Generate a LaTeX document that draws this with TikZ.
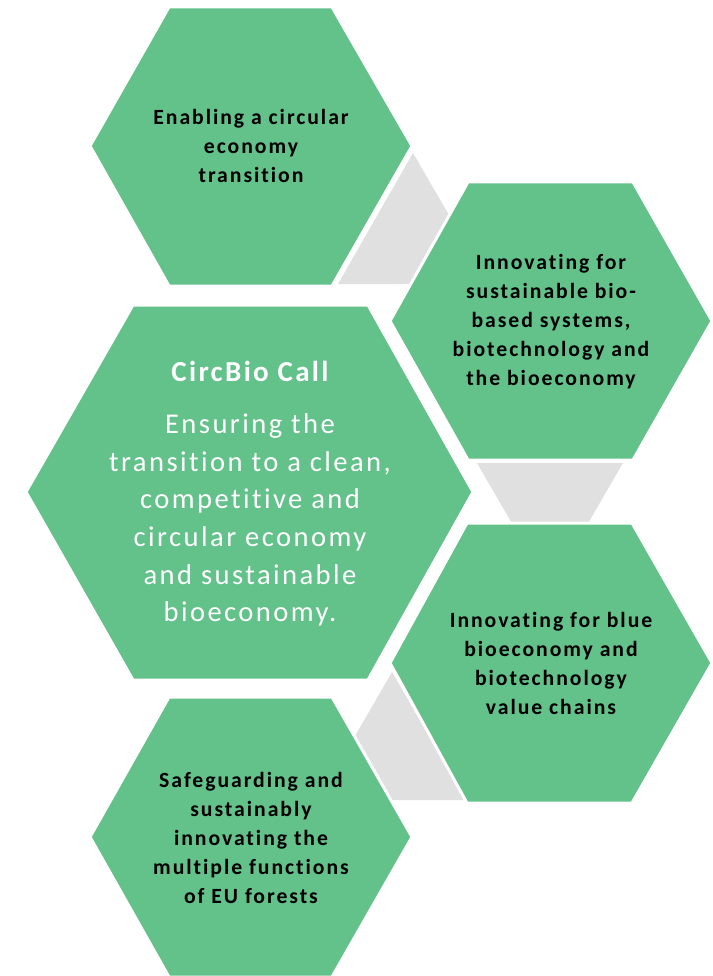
\documentclass[tikz,border=0pt]{standalone}
\usepackage{fontspec}
\setmainfont[Ligatures=NoCommon]{Carlito}
\newfontfamily\smallfam[LetterSpace=9,Ligatures=NoCommon]{Carlito}
\newfontfamily\bodyfam[LetterSpace=8.5,Ligatures=NoCommon]{Carlito}
\newfontfamily\titlefam[LetterSpace=8,Ligatures=NoCommon]{Carlito}
\definecolor{hexgreen}{RGB}{99,193,138}
\definecolor{linkgray}{RGB}{224,224,224}
\tikzset{
  hexshape/.style={fill=hexgreen,draw=white,line width=3pt,line join=miter},
  linkshape/.style={fill=linkgray,draw=none},
  smalltext/.style={align=center,text=black,font=\smallfam\fontsize{21.7}{29}\selectfont\bfseries,inner sep=0pt},
  titletext/.style={align=center,text=white,font=\titlefam\fontsize{29}{34}\selectfont\bfseries,inner sep=0pt},
  bodytext/.style={align=center,text=white,font=\bodyfam\fontsize{28.6}{37.7}\selectfont,inner sep=0pt}
}
\begin{document}
\begin{tikzpicture}[x=1pt,y=-1pt]
\useasboundingbox (0,0) rectangle (712,976);
% gray links
\fill[linkshape] (413,153) -- (338,284) -- (489,284) -- cycle;
\fill[linkshape] (477,463) -- (623,463) -- (550,589) -- cycle;
\fill[linkshape] (392,672) -- (318,800) -- (466,800) -- cycle;
% hexagons
\draw[hexshape] (169,7) -- (332,7) -- (412,146) -- (332,286) -- (169,286) -- (90,146) -- cycle;
\draw[hexshape] (468,182) -- (633,182) -- (712,321) -- (633,460) -- (468,460) -- (390,321) -- cycle;
\draw[hexshape] (133,305) -- (368,305) -- (473,492) -- (368,680) -- (133,680) -- (26,492) -- cycle;
\draw[hexshape] (467,523) -- (632,523) -- (712,663) -- (632,803) -- (467,803) -- (390,663) -- cycle;
\draw[hexshape] (169,697) -- (332,697) -- (412,837) -- (332,977) -- (169,977) -- (90,837) -- cycle;
% texts
\node[smalltext] (t1) at (251,146) {Enabling a circular\\economy\\transition};
\node[smalltext] (t2) at (551,321.5) {Innovating for\\sustainable bio-\\based systems,\\biotechnology and\\the bioeconomy};
\node[titletext] (t3) at (250,371) {CircBio Call};
\node[bodytext] (t4) at (250,520) {Ensuring the\\transition to a clean,\\competitive and\\circular economy\\and sustainable\\bioeconomy.};
\node[smalltext] (t5) at (551,663.5) {Innovating for blue\\bioeconomy and\\biotechnology\\value chains};
\node[smalltext] (t6) at (251,837.5) {Safeguarding and\\sustainably\\innovating the\\multiple functions\\of EU forests};
\end{tikzpicture}
\end{document}
